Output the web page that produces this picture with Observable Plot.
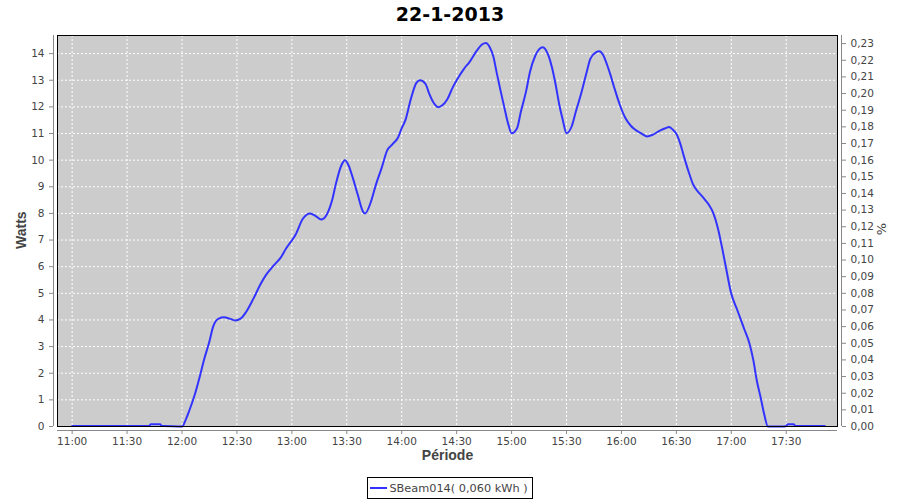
<!DOCTYPE html>
<html>
<head>
<meta charset="utf-8">
<script src="https://cdn.jsdelivr.net/npm/d3@7"></script>
<script src="https://cdn.jsdelivr.net/npm/@observablehq/plot@0.6"></script>
<style>
  html, body { margin: 0; padding: 0; background: #fff; }
  #wrap { width: 900px; height: 500px; position: relative; font-family: "DejaVu Sans", sans-serif; }
  #title { height: 30px; line-height: 28px; text-align: center; font-weight: bold; font-size: 19px; color: #000; }
  #chart svg { display: block; }
  #legend { margin-top: 7px; display: flex; justify-content: center; }
  #legend .box { display: flex; align-items: center; border: 1px solid #000; height: 20px; padding: 0 4px 0 2px; font-size: 11.3px; color: #444; white-space: pre; box-sizing: content-box; }
  #legend .sw { display: inline-block; width: 17px; height: 2px; background: #3333ff; margin-right: 2px; }
</style>
</head>
<body>
<div id="wrap">
  <div id="title">22-1-2013</div>
  <div id="chart"></div>
  <div id="legend"><span class="box"><span class="sw"></span><span id="legtext"></span></span></div>
</div>
<script>
const titleText = "22-1-2013";
const seriesName = "SBeam014( 0,060 kWh )";
const yLabel = "Watts";
const y2Label = "%";
const xLabel = "Période";

const times = [
  "11:00","11:42","11:43","11:48","11:49","11:50","12:00","12:02","12:04","12:07",
  "12:10","12:12","12:15","12:17","12:20","12:23","12:26","12:29","12:32","12:35",
  "12:39","12:43","12:46","12:50","12:54","12:57","13:02","13:06","13:10","13:13",
  "13:16","13:19","13:22","13:24","13:27","13:29","13:31","13:33","13:36","13:39",
  "13:40","13:43","13:46","13:49","13:52","13:55","13:58","14:00","14:02","14:05",
  "14:08","14:10","14:13","14:15","14:17","14:20","14:22","14:25","14:28","14:30",
  "14:34","14:37","14:41","14:44","14:46","14:48","14:50","14:52","14:54","14:56",
  "14:58","15:00","15:03","15:05","15:08","15:10","15:13","15:17","15:20","15:22",
  "15:24","15:26","15:28","15:30","15:33","15:35","15:38","15:41","15:43","15:46",
  "15:48","15:50","15:52","15:54","15:56","15:59","16:02","16:05","16:07","16:11",
  "16:14","16:17","16:21","16:24","16:26","16:28","16:30","16:32","16:34","16:37",
  "16:39","16:42","16:44","16:46","16:48","16:50","16:53","16:55","16:57","17:00",
  "17:03","17:05","17:07","17:10","17:12","17:14","17:16","17:18","17:20","17:29",
  "17:30","17:31","17:34","17:35","17:51"
];
const watts = [
  0.02,0.02,0.08,0.08,0.02,0.02,0,0.25,0.6,1.2,
  1.95,2.5,3.2,3.75,4.05,4.1,4.05,3.98,4.05,4.3,
  4.8,5.36,5.7,6.04,6.35,6.7,7.2,7.8,8.0,7.9,
  7.77,7.95,8.5,9.1,9.8,10.0,9.8,9.4,8.7,8.05,
  8.0,8.4,9.1,9.7,10.36,10.6,10.85,11.2,11.5,12.3,
  12.9,13.0,12.86,12.5,12.2,11.99,12.05,12.3,12.75,13.0,
  13.43,13.68,14.11,14.35,14.4,14.25,13.9,13.24,12.6,11.99,
  11.4,11.01,11.2,11.8,12.61,13.3,13.93,14.24,13.95,13.5,
  12.86,12.1,11.5,11.01,11.3,11.8,12.5,13.3,13.8,14.05,
  14.09,13.95,13.61,13.2,12.74,12.1,11.6,11.3,11.17,11.0,
  10.89,10.95,11.11,11.2,11.24,11.15,10.99,10.65,10.17,9.5,
  9.11,8.8,8.65,8.48,8.3,8.04,7.35,6.7,6.0,4.98,
  4.42,4.05,3.67,3.1,2.5,1.7,1.1,0.45,0,0,
  0.02,0.08,0.08,0.02,0.02
];

const xTickLabels = ["11:00","11:30","12:00","12:30","13:00","13:30","14:00","14:30","15:00","15:30","16:00","16:30","17:00","17:30"];
const leftTicks = [0,1,2,3,4,5,6,7,8,9,10,11,12,13,14];
const rightTicks = [0,0.01,0.02,0.03,0.04,0.05,0.06,0.07,0.08,0.09,0.10,0.11,0.12,0.13,0.14,0.15,0.16,0.17,0.18,0.19,0.20,0.21,0.22,0.23];
const xRange = ["10:52","17:58"];
const yMax = 14.68;
const pctPerWatt = 0.016;

document.getElementById("legtext").textContent = seriesName;
document.getElementById("title").textContent = titleText;

const parse = d3.utcParse("%H:%M");
const data = times.map((t, i) => ({t: parse(t), w: watts[i]}));
const xTicks = xTickLabels.map(parse);
const xDomain = xRange.map(parse);
const fmt = d3.utcFormat("%H:%M");

const plot = Plot.plot({
  width: 900,
  height: 440,
  marginLeft: 57,
  marginRight: 63,
  marginTop: 5,
  marginBottom: 44,
  style: {fontFamily: "DejaVu Sans", fontSize: "10.5px", background: "white"},
  x: {type: "utc", domain: xDomain, axis: null},
  y: {domain: [0, yMax], axis: null},
  marks: [
    Plot.frame({fill: "#cccccc", stroke: null}),
    Plot.gridX(xTicks, {stroke: "white", strokeOpacity: 1, strokeDasharray: "2,2"}),
    Plot.gridY(leftTicks, {stroke: "white", strokeOpacity: 1, strokeDasharray: "2,2"}),
    Plot.line(data, {x: "t", y: "w", stroke: "#3333ff", strokeWidth: 2, curve: "monotone-x"}),
    Plot.frame({stroke: "black", strokeWidth: 1}),
    Plot.ruleX([xDomain[0]], {stroke: "#888", dx: -4}),
    Plot.ruleX([xDomain[1]], {stroke: "#888", dx: 4}),
    Plot.ruleY([0], {stroke: "#888", dy: 4}),
    Plot.axisX(xTicks, {tickSize: 4, dy: 4, stroke: "#888", fill: "#444", tickFormat: fmt, label: null, tickPadding: 3}),
    Plot.axisY(leftTicks, {anchor: "left", tickSize: 4, dx: -4, stroke: "#888", fill: "#444", tickFormat: d => String(d), label: null}),
    Plot.axisY(rightTicks.map(p => p / pctPerWatt), {anchor: "right", tickSize: 4, dx: 4, stroke: "#888", fill: "#444",
      tickFormat: w => (w * pctPerWatt).toFixed(2).replace(".", ","), label: null}),
    Plot.text([xLabel], {frameAnchor: "bottom", dy: 33, fontWeight: "bold", fontSize: 14, fontFamily: "Liberation Sans", fill: "#444"}),
    Plot.text([yLabel], {frameAnchor: "left", dx: -36, dy: 18, rotate: -90, fontWeight: "bold", fontSize: 14, fontFamily: "Liberation Sans", fill: "#444"}),
    Plot.text([y2Label], {frameAnchor: "right", dx: 44, dy: -8, rotate: -90, fontSize: 13, fill: "#444"})
  ]
});
document.getElementById("chart").appendChild(plot);
</script>
</body>
</html>
